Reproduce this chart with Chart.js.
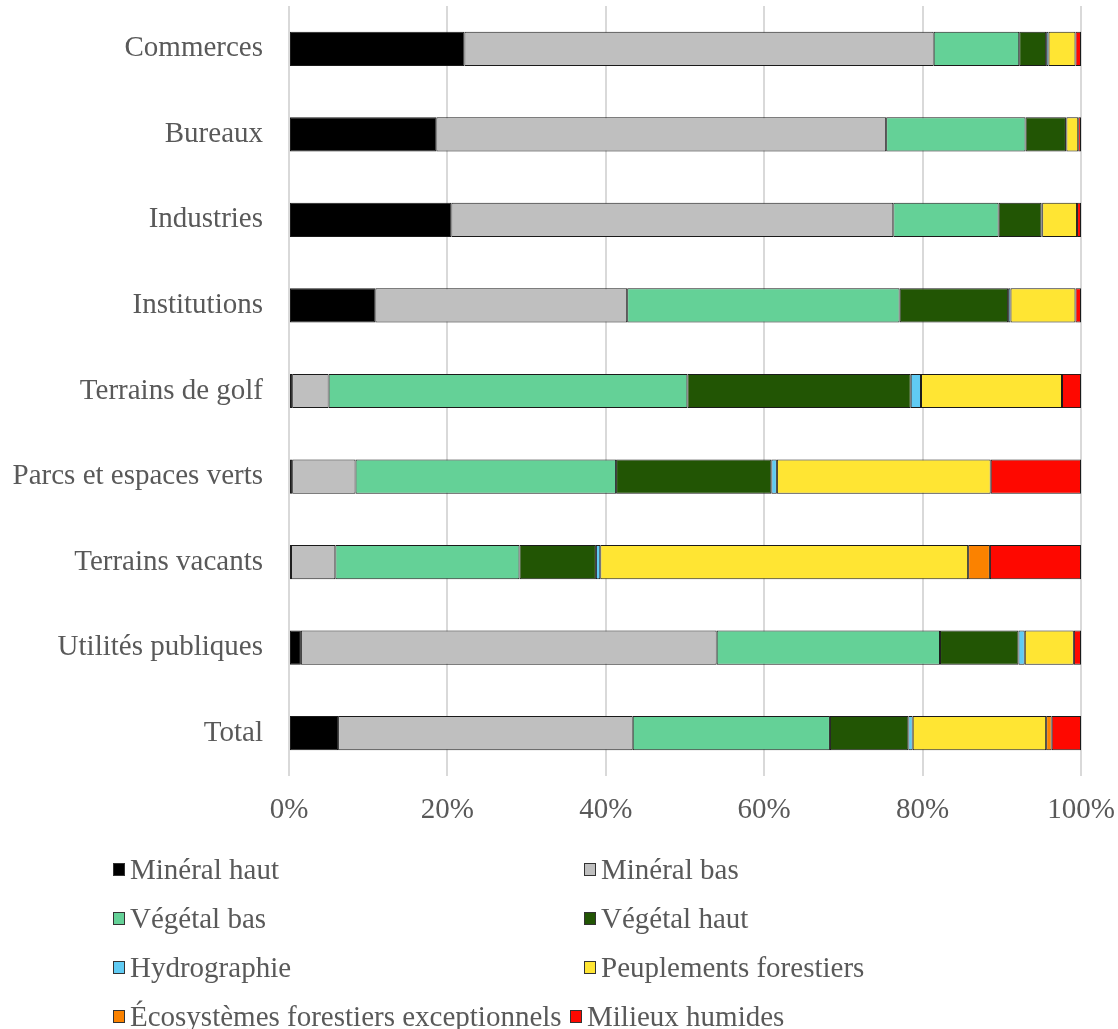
<!DOCTYPE html>
<html lang="fr">
<head>
<meta charset="utf-8">
<title>Occupation du sol par usage</title>
<script src="https://cdn.jsdelivr.net/npm/chart.js@4/dist/chart.umd.min.js"></script>
<style>
  html, body { margin: 0; padding: 0; background: #ffffff; }
  #wrap { position: relative; width: 1118px; height: 1029px; }
  #chart { position: absolute; left: 0; top: 0; }
  #legend {
    position: absolute; left: 0; top: 849px; width: 1118px;
    font-family: "Liberation Serif", "Times New Roman", serif;
    font-size: 29px; color: #595959;
  }
  .item { position: absolute; height: 40px; display: flex; align-items: center; white-space: nowrap; }
  .swatch { width: 10px; height: 11px; border: 1px solid #333; margin-right: 5px; flex: none; }
</style>
</head>
<body>
<div id="wrap">
  <canvas id="chart" width="1118" height="1029"></canvas>
  <div id="legend"></div>
</div>
<script>
// Usages du sol (catégories de l'axe vertical)
const categories = [
  'Commerces', 'Bureaux', 'Industries', 'Institutions', 'Terrains de golf',
  'Parcs et espaces verts', 'Terrains vacants', 'Utilités publiques', 'Total'
];

// Part de chaque classe d'occupation (%), dans l'ordre des catégories
const mineralHaut    = [22.15, 18.6, 20.5, 10.9,  0.4,  0.4,  0.25,  1.5,  6.2];
const mineralBas     = [59.25, 56.8, 55.8, 31.8,  4.6,  8.0,  5.6,  52.5, 37.2];
const vegetalBas     = [10.8,  17.6, 13.3, 34.4, 45.3, 32.9, 23.25, 28.2, 24.9];
const vegetalHaut    = [ 3.4,   5.1,  5.4, 13.7, 28.2, 19.6,  9.65,  9.9,  9.9];
const hydrographie   = [ 0.3,  0.05,  0.1,  0.3,  1.3,  0.7,  0.55,  0.8,  0.55];
const peuplements    = [ 3.4,   1.5,  4.4,  8.2, 17.8, 27.0, 46.45,  6.2, 16.85];
const ecosystemes    = [ 0,     0,    0,    0,    0,    0,    2.75,  0,    0.7];
const milieuxHumides = [ 0.7,  0.35,  0.5,  0.7,  2.4, 11.4, 11.5,   0.9,  3.7];

const xTicks = ['0%', '20%', '40%', '60%', '80%', '100%'];

const seriesNames = [
  'Minéral haut', 'Minéral bas', 'Végétal bas', 'Végétal haut',
  'Hydrographie', 'Peuplements forestiers',
  'Écosystèmes forestiers exceptionnels', 'Milieux humides'
];
const seriesValues = [
  mineralHaut, mineralBas, vegetalBas, vegetalHaut,
  hydrographie, peuplements, ecosystemes, milieuxHumides
];
const seriesColors = [
  '#000000', '#bfbfbf', '#64d197', '#225504',
  '#60cbf3', '#ffe533', '#fb8200', '#fe0800'
];

const serif = '"Liberation Serif", "Times New Roman", serif';

const chart = new Chart(document.getElementById('chart'), {
  type: 'bar',
  data: {
    labels: categories,
    datasets: seriesNames.map((name, i) => ({
      label: name,
      data: seriesValues[i],
      backgroundColor: seriesColors[i],
      borderColor: '#1a1a1a',
      borderWidth: 1,
      borderSkipped: false,
      barPercentage: 0.4,
      categoryPercentage: 1.0
    }))
  },
  options: {
    indexAxis: 'y',
    responsive: false,
    animation: false,
    layout: { padding: { left: 0, right: 37, top: 6, bottom: 193 } },
    plugins: {
      legend: { display: false },
      tooltip: { enabled: false }
    },
    scales: {
      x: {
        stacked: true,
        min: 0,
        max: 100,
        afterFit: (scale) => {
          scale.height = 60;
          scale.paddingLeft = 0;
          scale.paddingRight = 0;
        },
        grid: { color: '#d9d9d9', lineWidth: 2, drawTicks: false },
        border: { display: false },
        ticks: {
          stepSize: 20,
          padding: 17,
          color: '#595959',
          font: { family: serif, size: 29 },
          callback: (v) => xTicks[Math.round(v / 20)]
        }
      },
      y: {
        stacked: true,
        afterFit: (scale) => {
          scale.width = 289;
          scale.paddingTop = 0;
          scale.paddingBottom = 0;
        },
        grid: { display: false, drawTicks: false },
        border: { display: false },
        ticks: {
          padding: 26,
          color: '#595959',
          font: { family: serif, size: 29 }
        }
      }
    }
  }
});

// Légende sur deux colonnes, construite à partir des séries du graphique
const legend = document.getElementById('legend');
const legendLeft = [113, 584, 113, 584, 113, 584, 113, 570];
chart.data.datasets.forEach((ds, i) => {
  const item = document.createElement('div');
  item.className = 'item';
  item.style.left = legendLeft[i] + 'px';
  item.style.top = (Math.floor(i / 2) * 49) + 'px';
  const sw = document.createElement('span');
  sw.className = 'swatch';
  sw.style.background = ds.backgroundColor;
  const txt = document.createElement('span');
  txt.textContent = ds.label;
  item.appendChild(sw);
  item.appendChild(txt);
  legend.appendChild(item);
});
</script>
</body>
</html>
